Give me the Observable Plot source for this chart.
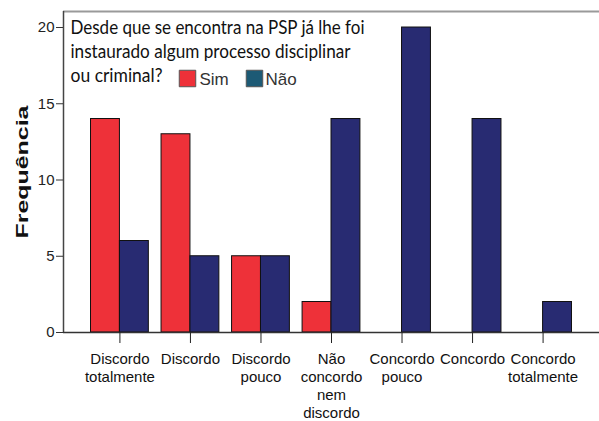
<!DOCTYPE html>
<html><head><meta charset="utf-8">
<script src="https://cdn.jsdelivr.net/npm/d3@7"></script>
<script src="https://cdn.jsdelivr.net/npm/@observablehq/plot@0.6"></script>
<style>body{margin:0;background:#fff} svg{display:block}</style>
</head><body><div id="chart"></div>
<script>
const categories = ["Discordo totalmente","Discordo","Discordo pouco","Não concordo nem discordo","Concordo pouco","Concordo","Concordo totalmente"];
const tickLabels = ["Discordo\ntotalmente","Discordo","Discordo\npouco","Não\nconcordo\nnem\ndiscordo","Concordo\npouco","Concordo","Concordo\ntotalmente"];
const series = ["Sim","Não"];
const simValues = [14,13,5,2,0,0,0];
const naoValues = [6,5,5,14,20,14,2];
const yTicks = [0,5,10,15,20];
const yLabel = "Frequência";
const legendTitle = ["Desde que se encontra na PSP já lhe foi","instaurado algum processo disciplinar","ou criminal?"];

const barColors = {"Sim":"#EE3139","Não":"#282B72"};
const swatchColors = {"Sim":"#EE3139","Não":"#1D5A75"};
const half = 0.41;
const yMax = 21.05;
const xDomain = [-0.8, 6.8];

const rows = [];
categories.forEach((c,i)=>{
  [simValues, naoValues].forEach((vals,s)=>{
    if (vals[i] > 0) rows.push({cat:c, i, series: series[s], s, value: vals[i]});
  });
});

const legendWidths = [294, 280, 92];

const marks = [
  Plot.rectY(rows, {
    x1: d => d.i + (d.s - 1) * half,
    x2: d => d.i + d.s * half,
    y: "value",
    fill: d => barColors[d.series],
    stroke: "#111",
    strokeWidth: 1
  }),
  Plot.ruleY([yMax], {stroke: "#9a9a9a", strokeWidth: 2}),
  Plot.ruleX([xDomain[0]], {stroke: "#444", strokeWidth: 1.5}),
  Plot.ruleY([0], {stroke: "#333", strokeWidth: 1.5}),
  Plot.axisY({ticks: yTicks, tickSize: 7, tickPadding: 2, fontSize: 15, label: null, stroke: "#333", color: "#222"}),
  Plot.axisX({ticks: categories.map((_, i) => i), tickFormat: i => tickLabels[i], tickSize: 11, tickPadding: 7, fontSize: 15, lineHeight: 1.22, label: null, stroke: "#222", color: "#111"}),
  Plot.text([yLabel], {frameAnchor: "left", dx: -40.5, dy: 66.5, rotate: -90, textAnchor: "start", lineAnchor: "middle", fontWeight: "bold", fontSize: 17, fill: "#111"}),
  ...legendTitle.map((line, k) => Plot.text([line], {
    frameAnchor: "top-left", dx: 7, dy: 9 + k * 24, textAnchor: "start", lineAnchor: "top",
    fontFamily: "Lato", fontSize: 19.5, fill: "#111"
  })),
  ...series.map((s, k) => Plot.dot([s], {
    frameAnchor: "top-left", dx: 124 + k * 67, dy: 67, symbol: "square", r: 9.3,
    fill: swatchColors[s], stroke: "#555", strokeWidth: 1
  })),
  ...series.map((s, k) => Plot.text([s], {
    frameAnchor: "top-left", dx: 136 + k * 66, dy: 68, textAnchor: "start", lineAnchor: "middle",
    fontSize: 17, fill: "#333"
  }))
];

const chart = Plot.plot({
  width: 599,
  height: 421,
  marginLeft: 63,
  marginRight: 0,
  marginTop: 11,
  marginBottom: 89,
  style: {fontFamily: "Liberation Sans, Arial, sans-serif", background: "#fff"},
  x: {type: "linear", domain: xDomain},
  y: {domain: [0, yMax]},
  marks
});
document.getElementById("chart").append(chart);

const svg = d3.select(chart.tagName.toLowerCase() === "svg" ? chart : chart.querySelector("svg"));
svg.selectAll("text").each(function() {
  const t = this.textContent;
  if (t === yLabel) d3.select(this).attr("textLength", 133).attr("lengthAdjust", "spacingAndGlyphs");
  const k = legendTitle.indexOf(t);
  if (k >= 0) d3.select(this).attr("textLength", legendWidths[k]).attr("lengthAdjust", "spacingAndGlyphs");
});
</script>
</body></html>
